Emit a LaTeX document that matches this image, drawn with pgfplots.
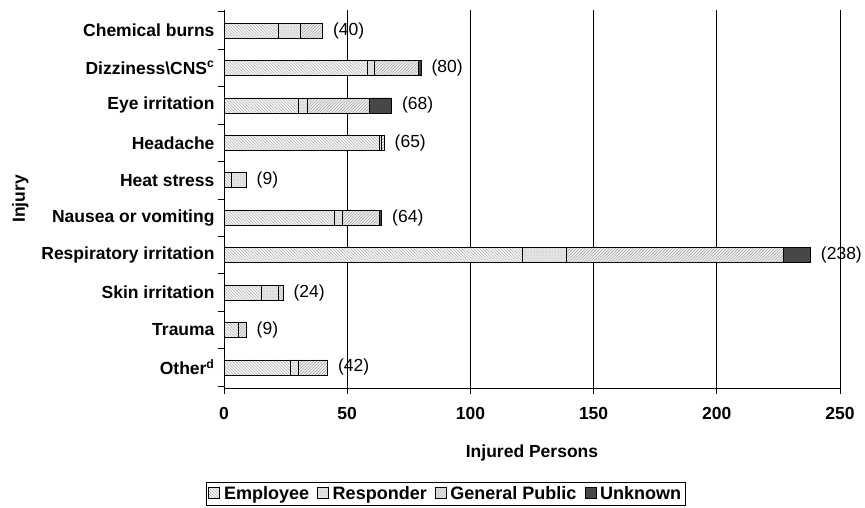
\documentclass[border=0pt]{standalone}
\usepackage{pgfplots}
\pgfplotsset{compat=1.18}
\usepackage{fontspec}
\setmainfont{Liberation Sans}
\usetikzlibrary{patterns}
\newcommand{\lf}{\fontsize{17.5}{20}\selectfont}
\begin{document}
\begin{tikzpicture}
\useasboundingbox (0,0) rectangle (865pt,507pt);
\begin{axis}[
  at={(224pt,119pt)}, anchor=south west,
  scale only axis, width=616pt, height=378pt,
  xbar stacked, bar width=15pt,
  xmin=0, xmax=250, ymin=-0.55, ymax=9.55,
  clip=false,
  axis x line*=bottom, axis y line*=left,
  axis line style={black, line width=0.9pt},
  xtick={0,50,...,250},
  xmajorgrids, major grid style={black, line width=0.9pt},
  tick align=outside, major tick length=6pt,
  tick style={black, line width=0.9pt},
  ytick={-0.5,0.5,...,9.5}, yticklabels={},
  extra y ticks={0,...,9},
  extra y tick labels={Other\textsuperscript{d},Trauma,Skin irritation,Respiratory irritation,Nausea or vomiting,Heat stress,Headache,Eye irritation,Dizziness\textbackslash CNS\textsuperscript{c},Chemical burns},
  extra y tick style={major tick length=0pt},
  tick label style={font=\lf\bfseries},
  y tick label style={xshift=-6pt},
  x tick label style={yshift=-10pt},
  /pgf/number format/assume math mode=true,
  xlabel={Injured Persons}, ylabel={Injury},
  label style={font=\lf\bfseries},
  xlabel style={yshift=-18pt},
  legend style={at={(0.36,-0.28)}, anchor=center, legend columns=-1, draw=black, line width=0.9pt,
    font=\fontsize{18}{20}\selectfont\bfseries, inner sep=2pt,
    /tikz/every even column/.append style={column sep=6pt},
    /tikz/every odd column/.append style={column sep=2pt}},
  legend cell align=left,
  legend image code/.code={\draw[#1, line width=0.7pt] (0pt,-5pt) rectangle (11pt,6pt);},
  every axis plot/.append style={draw=black, line width=0.8pt},
]
\addplot[fill=gray!8, postaction={pattern=north west lines, pattern color=gray!55}] coordinates {
 (22,9) (58,8) (30,7) (63,6) (3,5) (45,4) (121,3) (15,2) (6,1) (27,0)};
\addplot[fill=gray!22, postaction={pattern=dots, pattern color=gray!60}] coordinates {
 (9,9) (3,8) (4,7) (1,6) (6,5) (3,4) (18,3) (7,2) (0,1) (3,0)};
\addplot[fill=gray!14, postaction={pattern=north east lines, pattern color=gray!65}] coordinates {
 (9,9) (18,8) (25,7) (1,6) (0,5) (15,4) (88,3) (2,2) (3,1) (12,0)};
\addplot[fill=black!72] coordinates {
 (0,9) (1,8) (9,7) (0,6) (0,5) (1,4) (11,3) (0,2) (0,1) (0,0)};
\legend{Employee,Responder,General Public,Unknown}
\end{axis}
\begin{axis}[
  at={(224pt,119pt)}, anchor=south west,
  scale only axis, width=616pt, height=378pt,
  xmin=0, xmax=250, ymin=-0.55, ymax=9.55,
  hide axis, clip=false,
  /pgf/number format/assume math mode=true,
]
\addplot[draw=none, mark=none, point meta=x,
  nodes near coords={(\pgfmathprintnumber\pgfplotspointmeta)},
  nodes near coords style={font=\lf, anchor=west, xshift=7pt, text=black}] coordinates {
 (40,9) (80,8) (68,7) (65,6) (9,5) (64,4) (238,3) (24,2) (9,1) (42,0)};
\end{axis}
\end{tikzpicture}
\end{document}
